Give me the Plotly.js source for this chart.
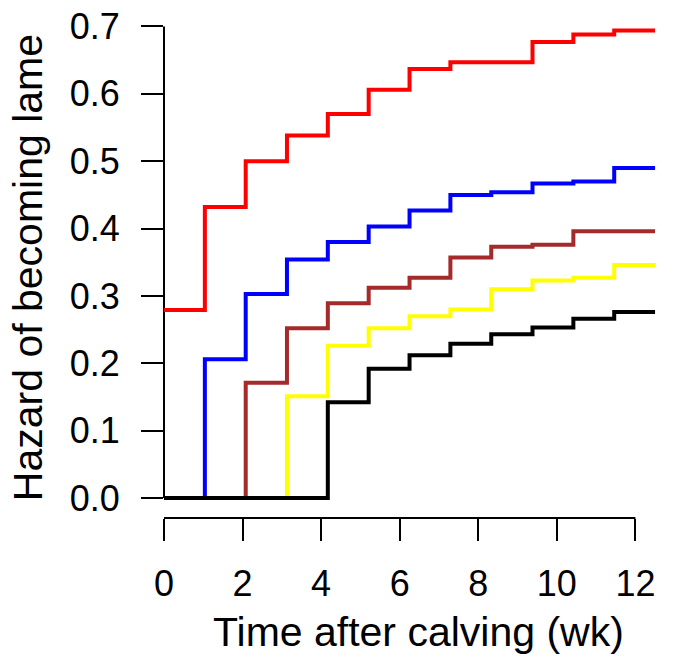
<!DOCTYPE html>
<html>
<head>
<meta charset="utf-8">
<script src="https://cdn.plot.ly/plotly-3.0.1.min.js"></script>
<style>
  html, body { margin: 0; padding: 0; background: #fff; }
  #chart { width: 673px; height: 657px; }
</style>
</head>
<body>
<div id="chart"></div>
<script>
// Step times (weeks)
const weeks = [0, 1.04, 2.08, 3.13, 4.17, 5.21, 6.25, 7.29, 8.33, 9.38, 10.42, 11.46, 12.5];

// Hazard values per step
const redHazard    = [0.279, 0.432, 0.500, 0.538, 0.570, 0.606, 0.637, 0.647, 0.647, 0.677, 0.688, 0.694, 0.694];
const blueHazard   = [0.000, 0.206, 0.303, 0.354, 0.380, 0.403, 0.427, 0.450, 0.454, 0.467, 0.470, 0.490, 0.490];
const brownHazard  = [0.000, 0.000, 0.171, 0.252, 0.289, 0.312, 0.327, 0.357, 0.373, 0.376, 0.396, 0.396, 0.396];
const yellowHazard = [0.000, 0.000, 0.000, 0.151, 0.226, 0.252, 0.270, 0.280, 0.310, 0.323, 0.327, 0.346, 0.346];
const blackHazard  = [0.000, 0.000, 0.000, 0.000, 0.142, 0.192, 0.212, 0.229, 0.243, 0.253, 0.266, 0.276, 0.276];

const xTicks = [0, 2, 4, 6, 8, 10, 12];
const yTicks = [0.0, 0.1, 0.2, 0.3, 0.4, 0.5, 0.6, 0.7];

const xTitle = 'Time after calving (wk)';
const yTitle = 'Hazard of becoming lame';

const series = [
  {y: redHazard,    color: '#ff0000'},
  {y: blueHazard,   color: '#0000ff'},
  {y: brownHazard,  color: '#a52a2a'},
  {y: yellowHazard, color: '#ffff00'},
  {y: blackHazard,  color: '#000000'}
];

const traces = series.map(s => ({
  x: weeks,
  y: s.y,
  type: 'scatter',
  mode: 'lines',
  line: {shape: 'hv', color: s.color, width: 4},
  hoverinfo: 'skip',
  showlegend: false
}));

const tickFont = {family: 'Liberation Sans, Arial, sans-serif', size: 36, color: '#000'};
const titleFont = {family: 'Liberation Sans, Arial, sans-serif', size: 41, color: '#000'};

const layout = {
  width: 673,
  height: 657,
  margin: {l: 164, r: 14.4, t: 12.5, b: 139},
  paper_bgcolor: '#fff',
  plot_bgcolor: '#fff',
  showlegend: false,
  xaxis: {
    range: [0, 12.6],
    tickvals: xTicks,
    ticktext: xTicks.map(String),
    ticks: 'outside',
    ticklen: 22,
    tickwidth: 2,
    tickcolor: '#000',
    ticklabelstandoff: 12,
    showline: false,
    showgrid: false,
    zeroline: false,
    tickfont: tickFont
  },
  yaxis: {
    range: [-0.02966, 0.72],
    tickvals: yTicks,
    ticktext: yTicks.map(v => v.toFixed(1)),
    ticks: 'outside',
    ticklen: 22,
    tickwidth: 2,
    tickcolor: '#000',
    ticklabelstandoff: 14,
    showline: false,
    showgrid: false,
    zeroline: false,
    tickfont: tickFont
  },
  shapes: [
    {type: 'line', xref: 'x', yref: 'paper', x0: xTicks[0], x1: xTicks[xTicks.length - 1], y0: 0, y1: 0,
     line: {color: '#000', width: 2}},
    {type: 'line', xref: 'paper', yref: 'y', x0: 0, x1: 0, y0: yTicks[0], y1: yTicks[yTicks.length - 1],
     line: {color: '#000', width: 2}, layer: 'below'}
  ],
  annotations: [
    {text: xTitle, xref: 'paper', yref: 'paper', x: 0.5135, y: -0.2255,
     xanchor: 'center', yanchor: 'middle', showarrow: false, font: titleFont},
    {text: yTitle, xref: 'paper', yref: 'paper', x: -0.275, y: 0.4965,
     xanchor: 'center', yanchor: 'middle', textangle: -90, showarrow: false, font: titleFont}
  ]
};

Plotly.newPlot('chart', traces, layout, {displayModeBar: false, staticPlot: true});
</script>
</body>
</html>
